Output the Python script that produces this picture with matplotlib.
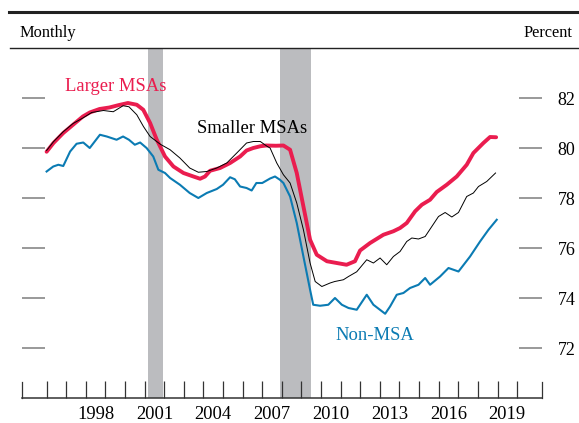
import numpy as np
import matplotlib
matplotlib.use("Agg")
import matplotlib.pyplot as plt
from matplotlib.lines import Line2D

plt.rcParams['font.family'] = ['Liberation Serif', 'DejaVu Serif']

# Larger MSAs (decimal year, percent)
larger_x = [1996.0, 1996.35, 1996.85, 1997.35, 1997.85, 1998.2, 1998.7, 1999.2, 1999.7, 2000.15,
            2000.6, 2000.93, 2001.28, 2001.62, 2002.04, 2002.47, 2002.98, 2003.49, 2003.83, 2004.08,
            2004.34, 2004.85, 2005.36, 2005.87, 2006.2, 2006.54, 2006.9, 2007.2, 2007.7, 2008.08,
            2008.42, 2008.76, 2009.1, 2009.44, 2009.78, 2010.3, 2010.8, 2011.3, 2011.73, 2011.99,
            2012.5, 2013.18, 2013.69, 2014.03, 2014.37, 2014.8, 2015.14, 2015.56, 2015.9, 2016.41,
            2016.92, 2017.43, 2017.77, 2018.28, 2018.62, 2018.93]
larger_y = [79.85, 80.2, 80.6, 80.93, 81.26, 81.42, 81.56, 81.62, 81.72, 81.8,
            81.73, 81.53, 81.0, 80.33, 79.66, 79.26, 79.0, 78.86, 78.77, 78.86,
            79.09, 79.2, 79.4, 79.66, 79.9, 80.0, 80.07, 80.1, 80.09, 80.1,
            79.93, 79.0, 77.66, 76.33, 75.73, 75.47, 75.4, 75.33, 75.47, 75.9,
            76.2, 76.53, 76.67, 76.8, 77.0, 77.47, 77.73, 77.93, 78.24, 78.53,
            78.86, 79.33, 79.8, 80.2, 80.44, 80.43]

# Smaller MSAs
smaller_x = [1996.0, 1996.35, 1996.85, 1997.35, 1997.85, 1998.3, 1998.9, 1999.4, 1999.9, 2000.2,
             2000.6, 2000.94, 2001.28, 2001.8, 2002.3, 2002.8, 2003.3, 2003.74, 2004.17, 2004.68,
             2005.19, 2005.7, 2006.2, 2006.55, 2006.9, 2007.24, 2007.4, 2007.74, 2008.08, 2008.42,
             2008.76, 2009.1, 2009.44, 2009.7, 2010.04, 2010.46, 2010.7, 2011.14, 2011.4, 2011.82,
             2012.33, 2012.67, 2013.01, 2013.35, 2013.69, 2014.03, 2014.37, 2014.63, 2014.97, 2015.31,
             2015.65, 2015.99, 2016.33, 2016.67, 2017.01, 2017.43, 2017.77, 2018.03, 2018.45, 2018.9]
smaller_y = [79.9, 80.25, 80.65, 80.98, 81.2, 81.42, 81.5, 81.45, 81.69, 81.65,
             81.33, 80.86, 80.46, 80.15, 79.93, 79.6, 79.2, 79.03, 79.06, 79.2,
             79.4, 79.8, 80.2, 80.26, 80.26, 80.07, 80.0, 79.4, 78.93, 78.6,
             77.8, 76.73, 75.4, 74.66, 74.46, 74.6, 74.66, 74.73, 74.86, 75.05,
             75.53, 75.4, 75.6, 75.33, 75.66, 75.86, 76.26, 76.4, 76.36, 76.46,
             76.86, 77.26, 77.42, 77.24, 77.42, 78.06, 78.2, 78.46, 78.66, 79.0]

# Non-MSA
non_x = [1996.0, 1996.34, 1996.6, 1996.85, 1997.2, 1997.53, 1997.87, 1998.2, 1998.72, 1999.07,
         1999.57, 1999.9, 2000.2, 2000.5, 2000.77, 2001.1, 2001.44, 2001.7, 2002.04, 2002.3,
         2002.8, 2003.3, 2003.74, 2004.17, 2004.68, 2005.0, 2005.36, 2005.6, 2005.87, 2006.2,
         2006.46, 2006.7, 2007.0, 2007.4, 2007.65, 2007.9, 2008.08, 2008.25, 2008.42, 2008.76,
         2009.1, 2009.44, 2009.6, 2009.95, 2010.37, 2010.71, 2011.06, 2011.4, 2011.82, 2012.33,
         2012.67, 2013.27, 2013.52, 2013.86, 2014.2, 2014.54, 2014.97, 2015.31, 2015.56, 2016.07,
         2016.5, 2017.01, 2017.6, 2018.11, 2018.54, 2018.96]
non_y = [79.06, 79.26, 79.33, 79.28, 79.86, 80.17, 80.22, 80.0, 80.53, 80.46,
         80.33, 80.46, 80.33, 80.13, 80.22, 80.0, 79.66, 79.13, 79.0, 78.8,
         78.53, 78.2, 78.0, 78.2, 78.36, 78.53, 78.83, 78.75, 78.46, 78.4,
         78.3, 78.6, 78.6, 78.78, 78.86, 78.73, 78.6, 78.33, 78.06, 77.0,
         75.66, 74.33, 73.73, 73.69, 73.73, 74.0, 73.73, 73.6, 73.53, 74.13,
         73.73, 73.37, 73.66, 74.13, 74.2, 74.4, 74.53, 74.8, 74.53, 74.86,
         75.2, 75.06, 75.66, 76.26, 76.73, 77.13]

recessions = [(2001.17, 2001.92), (2007.92, 2009.5)]
years = list(range(1996, 2021))
label_years = [1998, 2001, 2004, 2007, 2010, 2013, 2016, 2019]
yticks = [72, 74, 76, 78, 80, 82]

red = '#EA1D4F'
blue = '#0B7BB3'

fig = plt.figure(figsize=(5.79, 4.23), dpi=100)
ax = fig.add_axes([21.7 / 579, 25 / 423, 520.5 / 579, 350 / 423])

for start, end in recessions:
    ax.axvspan(start, end, color='#BBBCBF', lw=0, zorder=0)

ax.plot(non_x, non_y, color=blue, lw=1.5, zorder=2, solid_joinstyle='round')
ax.plot(smaller_x, smaller_y, color='black', lw=0.7, zorder=3, solid_joinstyle='round')
ax.plot(larger_x, larger_y, color=red, lw=2.8, zorder=2.5, solid_joinstyle='round',
        solid_capstyle='round')

ax.set_xlim(1994.73, 2021.28)
ax.set_ylim(70, 84)

ax.set_xticks(years)
ax.set_xticklabels([])
ax.set_xticks([y + 0.5 for y in label_years], minor=True)
ax.set_xticklabels([str(y) for y in label_years], minor=True)
ax.tick_params(axis='x', which='major', direction='in', length=12, width=0.9, color='#333333')
ax.tick_params(axis='x', which='minor', length=0, pad=6, labelsize=13.3)

ax.set_yticks(yticks)
ax.tick_params(axis='y', left=True, right=True, labelleft=False, labelright=True,
               direction='in', length=16.5, width=1.2, color='#888888', pad=11,
               labelsize=13)

for side in ['left', 'right', 'top']:
    ax.spines[side].set_visible(False)
ax.spines['bottom'].set_color('#333333')
ax.spines['bottom'].set_linewidth(1.1)

# end ticks on the x axis
for xe in ax.get_xlim():
    ax.plot([xe, xe], [0, 16.5 / 350], transform=ax.get_xaxis_transform(),
            color='#333333', lw=0.9, clip_on=False)

ax.text(1999.54, 82.46, 'Larger MSAs', color=red, fontsize=13.4, ha='center', va='center')
ax.text(2003.69, 80.8, 'Smaller MSAs', color='black', fontsize=13.4, ha='left', va='center')
ax.text(2010.71, 72.49, 'Non-MSA', color=blue, fontsize=13.4, ha='left', va='center')

fig.add_artist(Line2D([9 / 579, 1], [1 - 12 / 423] * 2, transform=fig.transFigure,
                      color='#222222', lw=2.2))
fig.add_artist(Line2D([10 / 579, 1], [1 - 48 / 423] * 2, transform=fig.transFigure,
                      color='#222222', lw=1.0))
fig.text(20 / 579, 1 - 33 / 423, 'Monthly', fontsize=11.8, ha='left', va='center')
fig.text(573 / 579, 1 - 33 / 423, 'Percent', fontsize=11.8, ha='right', va='center')

fig.savefig('out.png', dpi=100)
